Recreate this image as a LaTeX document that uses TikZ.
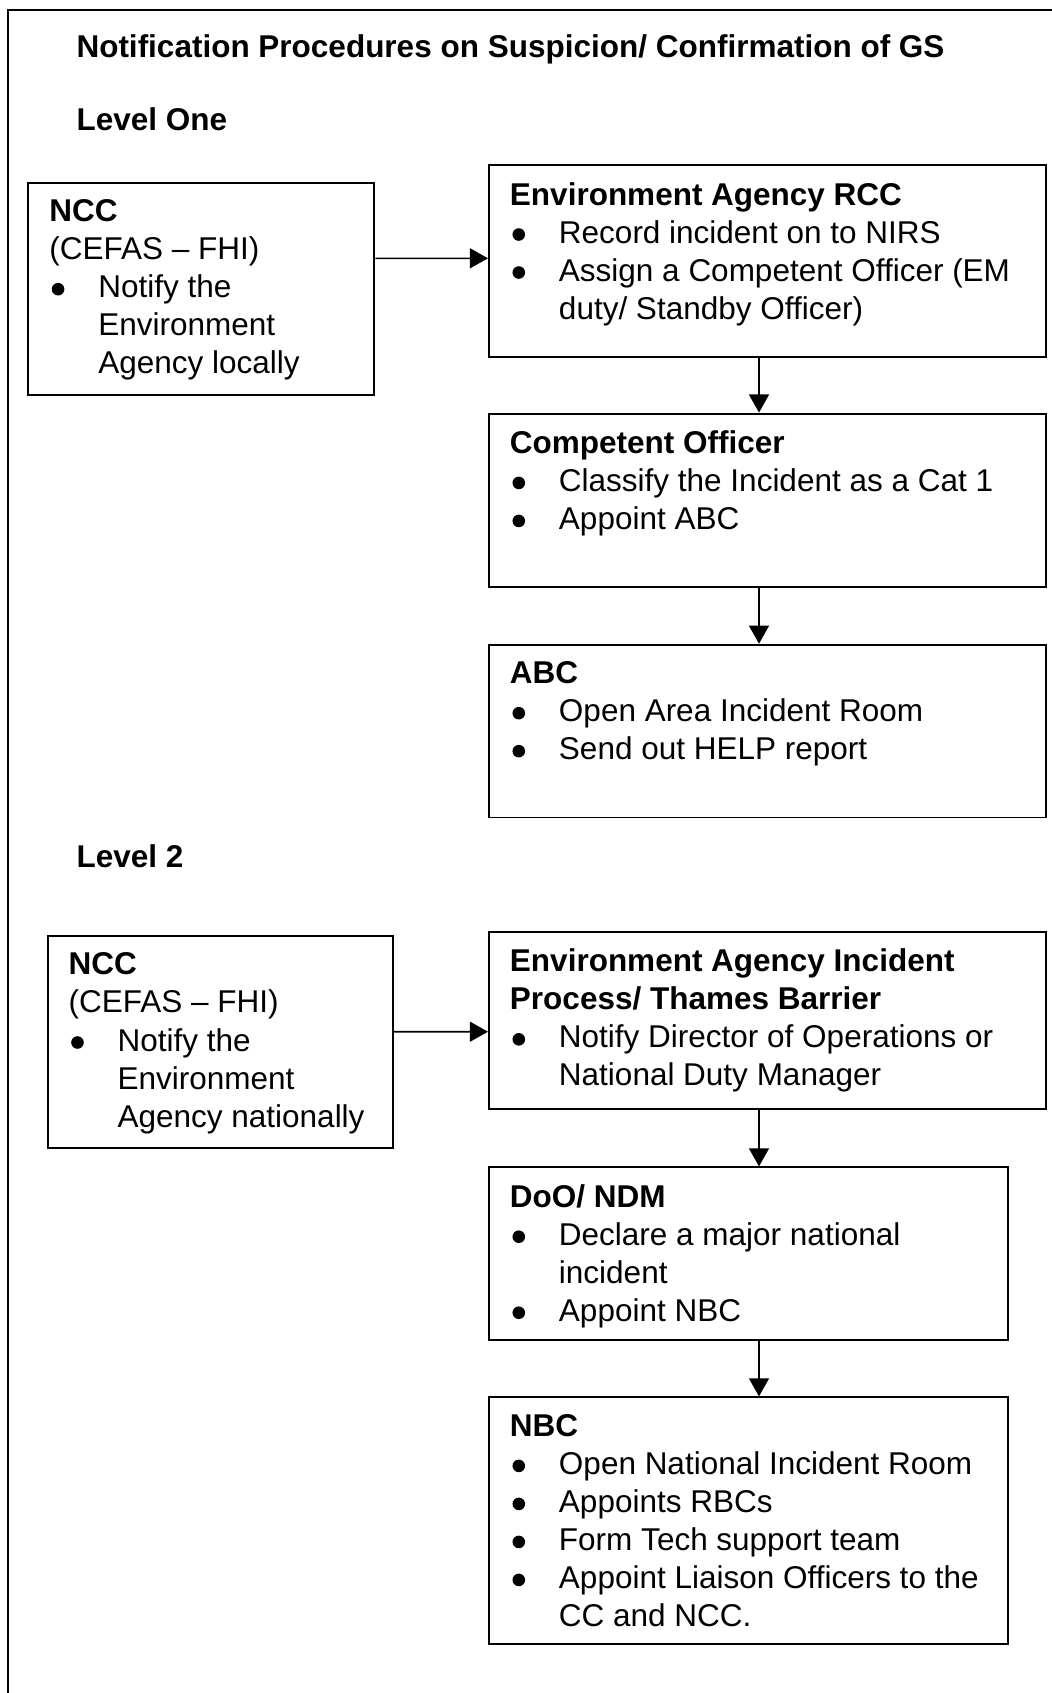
\documentclass[tikz,border=0pt]{standalone}
\usepackage{fontspec}
\setmainfont{Liberation Sans}
\usepackage{tikz}
\usetikzlibrary{arrows.meta}

\newlength{\pxu}
\setlength{\pxu}{0.381pt}

% bullet line with hanging indent
\newcommand{\stageitem}[1]{\par\noindent\hangindent=49\pxu\hangafter=1
  \makebox[49\pxu][l]{\hspace*{2.5\pxu}\tikz[baseline=0pt]\fill (0pt,8.5\pxu) circle[radius=6.3\pxu];}#1}

\begin{document}
\begin{tikzpicture}[x=\pxu, y=-\pxu,
    every node/.style={font=\fontsize{12}{14.48}\selectfont},
    stage/.style={draw, line width=0.75pt, anchor=north west, inner xsep=21\pxu, inner ysep=17\pxu},
    heading/.style={anchor=base west, inner sep=0pt, font=\fontsize{12}{14.48}\selectfont\bfseries},
    flow/.style={-{Triangle[length=6.9pt, width=7.6pt]}, line width=0.6pt}]
    \useasboundingbox (0,0) rectangle (1052,1693);
    % page frame, open to the right and below
    \draw[line width=0.75pt] (8,1693) -- (8,10) -- (1052,10);

    \node[heading] (title) at (76,57) {Notification Procedures on Suspicion/ Confirmation of GS};
    \node[heading] (level-one) at (76,130.5) {Level One};
    \node[heading] (level-two) at (76,867) {Level 2};

    % Level One
    \node[stage] (ncc1) at (27.3,181.7) {\parbox[t][178.3\pxu][t]{304\pxu}{%
        \textbf{NCC}\newline(CEFAS – FHI)
        \stageitem{Notify the\newline Environment\newline Agency locally}}};
    \node[stage] (ercc) at (488,164.2) {\parbox[t][158.2\pxu][t]{515\pxu}{%
        \textbf{Environment Agency RCC}
        \stageitem{Record incident on to NIRS}
        \stageitem{Assign a Competent Officer (EM\newline duty/ Standby Officer)}}};
    \node[stage] (co) at (488,412.6) {\parbox[t][139.8\pxu][t]{515\pxu}{%
        \textbf{Competent Officer}
        \stageitem{Classify the Incident as a Cat 1}
        \stageitem{Appoint ABC}}};
    \node[stage] (abc) at (488,643.7) {\parbox[t][138.8\pxu][t]{515\pxu}{%
        \textbf{ABC}
        \stageitem{Open Area Incident Room}
        \stageitem{Send out HELP report}}};
    \draw[flow] ([yshift=-29.2pt]ncc1.north east) -- ([yshift=-35.85pt]ercc.north west);
    \draw[flow] ([xshift=103.25pt]ercc.south west) -- ([xshift=103.25pt]co.north west);
    \draw[flow] ([xshift=103.25pt]co.south west) -- ([xshift=103.25pt]abc.north west);

    % Level 2
    \node[stage] (ncc2) at (46.7,935) {\parbox[t][178\pxu][t]{303\pxu}{%
        \textbf{NCC}\newline(CEFAS – FHI)
        \stageitem{Notify the\newline Environment\newline Agency nationally}}};
    \node[stage] (eaip) at (488,931) {\parbox[t][143\pxu][t]{515\pxu}{%
        \textbf{Environment Agency Incident\newline Process/ Thames Barrier}
        \stageitem{Notify Director of Operations or\newline National Duty Manager}}};
    \node[stage] (doo) at (488,1166.4) {\parbox[t][138.8\pxu][t]{476.6\pxu}{%
        \textbf{DoO/ NDM}
        \stageitem{Declare a major national\newline incident}
        \stageitem{Appoint NBC}}};
    \node[stage] (nbc) at (488,1396.4) {\parbox[t][212.3\pxu][t]{476.6\pxu}{%
        \textbf{NBC}
        \stageitem{Open National Incident Room}
        \stageitem{Appoints RBCs}
        \stageitem{Form Tech support team}
        \stageitem{Appoint Liaison Officers to the\newline CC and NCC.}}};
    \draw[flow] ([yshift=-36.85pt]ncc2.north east) -- ([yshift=-38.37pt]eaip.north west);
    \draw[flow] ([xshift=103.25pt]eaip.south west) -- ([xshift=103.25pt]doo.north west);
    \draw[flow] ([xshift=103.25pt]doo.south west) -- ([xshift=103.25pt]nbc.north west);
\end{tikzpicture}
\end{document}
